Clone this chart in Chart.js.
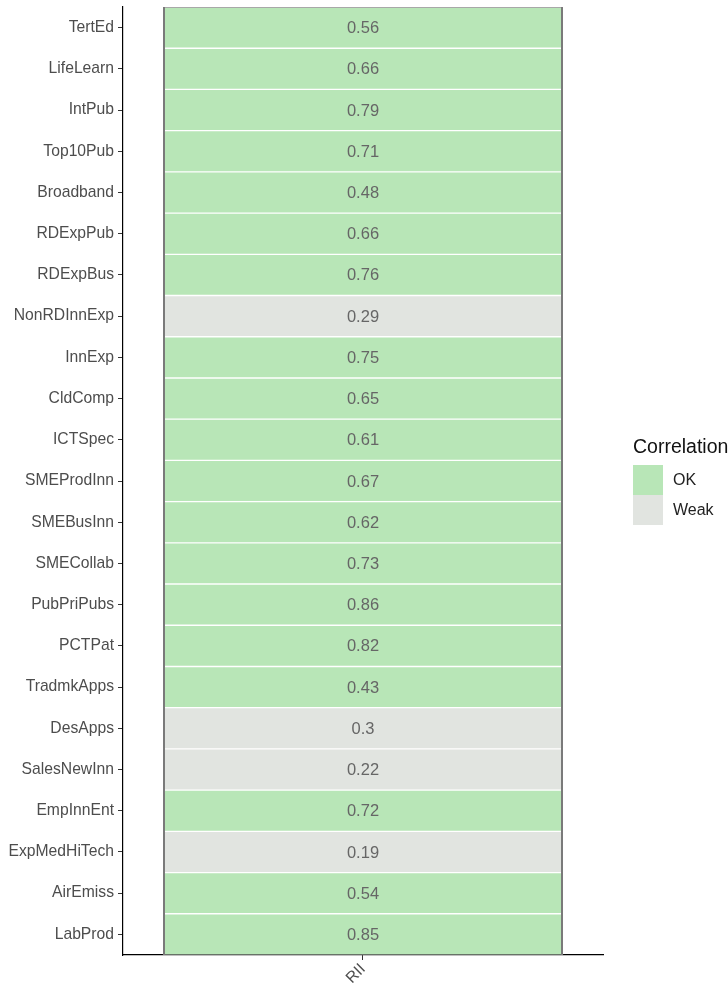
<!DOCTYPE html>
<html><head><meta charset="utf-8">
<script src="https://cdn.jsdelivr.net/npm/chart.js@4"></script>
<style>html,body{margin:0;padding:0;background:#fff}#wrap{width:728px;height:985px;position:relative}</style>
</head><body><div id="wrap"><canvas id="c" width="728" height="985"></canvas></div>
<script>
const indicators = ["TertEd","LifeLearn","IntPub","Top10Pub","Broadband","RDExpPub","RDExpBus","NonRDInnExp","InnExp","CldComp","ICTSpec","SMEProdInn","SMEBusInn","SMECollab","PubPriPubs","PCTPat","TradmkApps","DesApps","SalesNewInn","EmpInnEnt","ExpMedHiTech","AirEmiss","LabProd"];
const riiValues = [0.56,0.66,0.79,0.71,0.48,0.66,0.76,0.29,0.75,0.65,0.61,0.67,0.62,0.73,0.86,0.82,0.43,0.3,0.22,0.72,0.19,0.54,0.85];
const correlation = ["OK","OK","OK","OK","OK","OK","OK","Weak","OK","OK","OK","OK","OK","OK","OK","OK","OK","Weak","Weak","OK","Weak","OK","OK"];
const columns = ["RII"];
const legendTitle = "Correlation";
const legendLevels = ["OK","Weak"];
const levelColors = {"OK":"#b8e6b7","Weak":"#e1e4e0"};

const colPos = columns.indexOf("RII") + 1;
const tileData = indicators.map(() => [colPos - 0.5, colPos + 0.5]);

const FONT = "'Liberation Sans', Arial, sans-serif";

const decor = {
  id: 'decor',
  afterDatasetsDraw(chart) {
    const ctx = chart.ctx, xs = chart.scales.x, ys = chart.scales.y;
    const meta = chart.getDatasetMeta(0);
    const left = xs.getPixelForValue(colPos - 0.5), right = xs.getPixelForValue(colPos + 0.5);
    const top = ys.top, bottom = ys.bottom;
    ctx.save();
    ctx.strokeStyle = '#a8a8a8'; ctx.lineWidth = 1;
    ctx.beginPath(); ctx.moveTo(left, top + 0.5); ctx.lineTo(right, top + 0.5); ctx.stroke();
    ctx.strokeStyle = '#7a7a7a'; ctx.lineWidth = 2;
    ctx.beginPath(); ctx.moveTo(left + 1, top); ctx.lineTo(left + 1, bottom);
    ctx.moveTo(right - 1, top); ctx.lineTo(right - 1, bottom); ctx.stroke();
    ctx.fillStyle = '#666666';
    ctx.font = "16.5px " + FONT;
    ctx.textAlign = 'center'; ctx.textBaseline = 'middle';
    meta.data.forEach((el, i) => {
      ctx.fillText(String(riiValues[i]), xs.getPixelForValue(colPos), ys.getPixelForValue(i) + 1);
    });
    const lx = 633;
    ctx.fillStyle = '#111';
    ctx.font = "19.5px " + FONT;
    ctx.textAlign = 'left';
    ctx.fillText(legendTitle, lx, 448);
    legendLevels.forEach((lv, k) => {
      const y0 = 465 + k * 30;
      ctx.fillStyle = levelColors[lv];
      ctx.fillRect(lx, y0, 30, 30);
      ctx.fillStyle = '#222';
      ctx.font = "16px " + FONT;
      ctx.fillText(lv, lx + 40, y0 + 16);
    });
    ctx.restore();
  }
};

new Chart(document.getElementById('c'), {
  type: 'bar',
  data: {
    labels: indicators,
    datasets: [{
      data: tileData,
      backgroundColor: correlation.map(c => levelColors[c]),
      borderColor: 'rgba(255,255,255,0.3)',
      borderWidth: 1,
      borderSkipped: false,
      barPercentage: 1,
      categoryPercentage: 1
    }]
  },
  options: {
    indexAxis: 'y',
    responsive: false,
    animation: false,
    layout: { padding: { left: 0, right: 125, top: 7, bottom: 0 } },
    plugins: { legend: { display: false }, tooltip: { enabled: false } },
    scales: {
      y: {
        type: 'category',
        offset: true,
        afterFit(s) { s.width = 123; s.paddingTop = 0; s.paddingBottom = 0; },
        grid: { offset: false, drawOnChartArea: false, drawTicks: true, tickLength: 5, color: '#333', lineWidth: 1 },
        border: { display: true, color: '#000', width: 1.2 },
        ticks: { color: '#4d4d4d', font: { family: FONT, size: 15.7 }, padding: 4, autoSkip: false }
      },
      x: {
        type: 'linear',
        min: colPos - 0.6, max: colPos + 0.6,
        afterFit(s) { s.height = 30; s.paddingLeft = 0; s.paddingRight = 0; },
        afterBuildTicks(s) { s.ticks = columns.map((c, i) => ({ value: i + 1 })); },
        grid: { drawOnChartArea: false, drawTicks: true, tickLength: 5, color: '#333' },
        border: { display: true, color: '#000', width: 1.2 },
        ticks: { color: '#4d4d4d', font: { family: FONT, size: 15.7 }, minRotation: 45, maxRotation: 45, padding: 0,
          callback: (v) => columns[Math.round(v) - 1] }
      }
    }
  },
  plugins: [decor]
});
</script></body></html>
